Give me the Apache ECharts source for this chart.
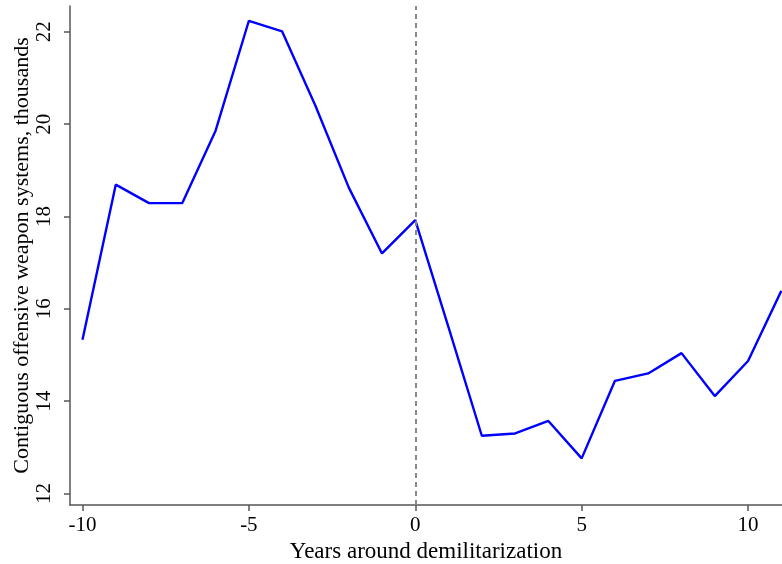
<!DOCTYPE html>
<html>
<head>
<meta charset="utf-8">
<script src="https://cdn.jsdelivr.net/npm/echarts@6/dist/echarts.min.js"></script>
<style>
html,body{margin:0;padding:0;background:#fff;}
#chart{width:782px;height:564px;}
</style>
</head>
<body>
<div id="chart"></div>
<script>
var years = [-10,-9,-8,-7,-6,-5,-4,-3,-2,-1,0,1,2,3,4,5,6,7,8,9,10,11];
var weapons = [15.33,18.69,18.29,18.29,19.86,22.24,22.01,20.4,18.63,17.2,17.92,15.6,13.25,13.3,13.57,12.76,14.44,14.6,15.04,14.11,14.87,16.39];
var xTicks = [-10,-5,0,5,10];
var yTicks = [12,14,16,18,20,22];
var eventYear = 0;

var font = '"Liberation Serif","Times New Roman",serif';
var chart = echarts.init(document.getElementById('chart'), null, {renderer:'canvas'});
chart.setOption({
  animation:false,
  backgroundColor:'#fff',
  grid:{left:70,right:0,top:6,bottom:59,containLabel:false,outerBoundsMode:'none'},
  xAxis:{
    type:'value', min:-10.375, max:11.02,
    name:'Years around demilitarization', nameLocation:'middle', nameGap:35, nameMoveOverlap:false,
    nameTextStyle:{fontFamily:font,fontSize:23,color:'#000'},
    axisLine:{show:true,onZero:false,lineStyle:{color:'#555',width:1.5}},
    axisTick:{show:true,customValues:xTicks,length:6,lineStyle:{color:'#555',width:1.5}},
    axisLabel:{customValues:xTicks,fontFamily:font,fontSize:21,color:'#000',margin:10},
    splitLine:{show:false}
  },
  yAxis:{
    type:'value', min:11.75, max:22.56,
    name:'Contiguous offensive weapon systems, thousands', nameLocation:'middle', nameGap:37, nameMoveOverlap:false,
    nameTextStyle:{fontFamily:font,fontSize:22,color:'#000'},
    axisLine:{show:true,onZero:false,lineStyle:{color:'#555',width:1.5}},
    axisTick:{show:true,customValues:yTicks,length:6,lineStyle:{color:'#555',width:1.5}},
    axisLabel:{customValues:yTicks,rotate:90,fontFamily:font,fontSize:21,color:'#000',margin:15},
    splitLine:{show:false}
  },
  series:[{
    type:'line',
    data:years.map(function(y,i){return [y,weapons[i]];}),
    showSymbol:false,
    lineStyle:{color:'#0000ff',width:2.4},
    markLine:{
      silent:true, symbol:['none','none'], label:{show:false},
      lineStyle:{color:'#888',type:[5,4],width:2},
      data:[{xAxis:eventYear}]
    }
  }]
});
</script>
</body>
</html>
